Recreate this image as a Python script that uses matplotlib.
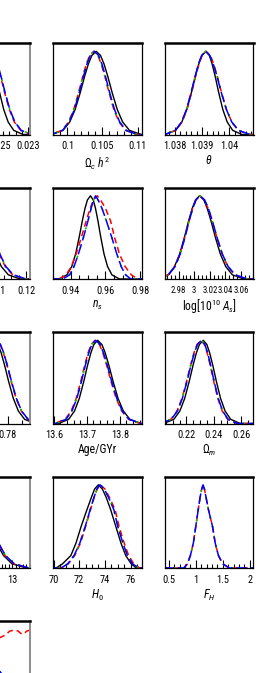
import matplotlib
matplotlib.use("Agg")
import matplotlib.pyplot as plt
from matplotlib import font_manager
from matplotlib.ticker import MultipleLocator, FormatStrFormatter

# the reference uses a very narrow face; take the narrowest one installed
installed = {f.name for f in font_manager.fontManager.ttflist}
face = 'DejaVu Sans'
for cand in ['DejaVu Sans Condensed', 'Liberation Sans Narrow', 'Roboto Condensed', 'Liberation Sans']:
    if cand in installed:
        face = cand
        break
plt.rcParams['font.family'] = [face, 'DejaVu Sans']
plt.rcParams['mathtext.fontset'] = 'custom'
plt.rcParams['mathtext.rm'] = face
plt.rcParams['mathtext.it'] = face + ':italic'
plt.rcParams['mathtext.bf'] = face + ':bold'

# heights (relative to peak) at which the curve crossings were read
levels = [0, 0, 0.05, 0.15, 0.3, 0.5, 0.7, 0.85, 0.95, 1, 0.95, 0.85, 0.7, 0.5, 0.3, 0.15, 0.05, 0, 0]

# row 1, left (cut off) : Omega_b h^2
obh2_black = [0.02150, 0.021750, 0.021900, 0.021989, 0.022060, 0.022125, 0.022184, 0.022233, 0.022277, 0.022334,
              0.022391, 0.022435, 0.022484, 0.022543, 0.022608, 0.022679, 0.022768, 0.022918, 0.02310]
obh2_red = [0.02150, 0.021713, 0.021886, 0.021987, 0.022068, 0.022143, 0.022210, 0.022267, 0.022318, 0.022383,
            0.022448, 0.022499, 0.022556, 0.022623, 0.022698, 0.022779, 0.022880, 0.023053, 0.02310]
obh2_blue = [0.02150, 0.021721, 0.021894, 0.021995, 0.022076, 0.022151, 0.022218, 0.022275, 0.022326, 0.022391,
             0.022456, 0.022507, 0.022564, 0.022631, 0.022706, 0.022787, 0.022888, 0.023061, 0.02310]

# row 2, left (cut off)
tau_black = [0.085, 0.08726, 0.09123, 0.09356, 0.09543, 0.09716, 0.09870, 0.10001, 0.10118, 0.10267,
             0.10416, 0.10533, 0.10664, 0.10818, 0.10991, 0.11178, 0.11411, 0.11808, 0.1230]
tau_red = [0.085, 0.08683, 0.09108, 0.09358, 0.09558, 0.09743, 0.09908, 0.10048, 0.10173, 0.10333,
           0.10493, 0.10618, 0.10758, 0.10923, 0.11108, 0.11308, 0.11558, 0.11983, 0.1230]
tau_blue = [0.085, 0.08703, 0.09128, 0.09378, 0.09578, 0.09763, 0.09928, 0.10068, 0.10193, 0.10353,
            0.10513, 0.10638, 0.10778, 0.10943, 0.11128, 0.11328, 0.11578, 0.12003, 0.1230]

# row 3, left (cut off)
s8_black = [0.750, 0.7585, 0.76275, 0.76525, 0.76725, 0.7691, 0.77075, 0.77215, 0.7734, 0.775,
            0.77643, 0.77755, 0.77879, 0.78027, 0.78192, 0.78371, 0.78594, 0.78973, 0.795]
s8_red = [0.750, 0.75803, 0.76259, 0.76526, 0.76741, 0.76939, 0.77116, 0.77266, 0.77400, 0.77571,
          0.77720, 0.77836, 0.77966, 0.78119, 0.78291, 0.78477, 0.78709, 0.79103, 0.795]
s8_blue = [0.750, 0.75813, 0.76269, 0.76536, 0.76751, 0.76949, 0.77126, 0.77276, 0.77410, 0.77581,
           0.77730, 0.77846, 0.77976, 0.78129, 0.78301, 0.78487, 0.78719, 0.79113, 0.795]

# row 4, left (cut off)
zre_black = [10.0, 10.183, 10.599, 10.844, 11.040, 11.222, 11.383, 11.521, 11.643, 11.8,
             11.957, 12.079, 12.217, 12.378, 12.560, 12.756, 13.001, 13.417, 13.6]
zre_red = [10.0, 10.179, 10.604, 10.854, 11.054, 11.239, 11.404, 11.544, 11.669, 11.829,
           11.989, 12.114, 12.254, 12.419, 12.604, 12.804, 13.054, 13.479, 13.6]
zre_blue = [10.0, 10.189, 10.614, 10.864, 11.064, 11.249, 11.414, 11.554, 11.679, 11.839,
            11.999, 12.124, 12.264, 12.429, 12.614, 12.814, 13.064, 13.489, 13.6]

# row 5, left (only the top is visible)
last_red_x = [0.0, 0.213, 0.438, 0.663, 0.719, 0.775, 0.831, 0.865, 0.910, 0.944, 0.966, 1.0]
last_red_y = [0.55, 0.70, 0.82, 0.90, 0.93, 0.98, 0.99, 0.98, 0.94, 0.96, 0.98, 0.99]
last_blue_x = [0.0, 0.213, 0.438, 0.663, 0.719, 0.80, 1.0]
last_blue_y = [1.0, 0.85, 0.68, 0.49, 0.42, 0.32, 0.15]
last_black_y = [1.0, 0.80, 0.60, 0.38, 0.33, 0.25, 0.10]

# row 1
och2_black = [0.0970, 0.0977, 0.09935, 0.10032, 0.10109, 0.10181, 0.10245, 0.10299, 0.10348, 0.1041,
              0.10472, 0.10521, 0.10575, 0.10639, 0.10711, 0.10788, 0.10885, 0.1105, 0.1110]
och2_red = [0.0970, 0.097655, 0.099227, 0.100152, 0.100892, 0.101577, 0.102187, 0.102705, 0.103168, 0.10376,
            0.104352, 0.104815, 0.105333, 0.105943, 0.106628, 0.107368, 0.108293, 0.109865, 0.1110]
och2_blue = [0.0970, 0.097745, 0.099317, 0.100242, 0.100982, 0.101667, 0.102277, 0.102795, 0.103258, 0.10385,
             0.104442, 0.104905, 0.105423, 0.106033, 0.106718, 0.107458, 0.108383, 0.109955, 0.1110]

theta_black = [1.0375, 1.037655, 1.038037, 1.038262, 1.038442, 1.038609, 1.038757, 1.038883, 1.038996, 1.03914,
               1.039268, 1.039368, 1.03948, 1.039612, 1.03976, 1.03992, 1.04012, 1.04046, 1.0410]
theta_red = [1.0375, 1.037665, 1.038047, 1.038272, 1.038452, 1.038619, 1.038767, 1.038893, 1.039006, 1.03915,
             1.039304, 1.039424, 1.039558, 1.039716, 1.039894, 1.040086, 1.040326, 1.040734, 1.0410]
theta_blue = [1.0375, 1.037645, 1.038027, 1.038252, 1.038432, 1.038599, 1.038747, 1.038873, 1.038986, 1.03913,
              1.039287, 1.039409, 1.039547, 1.039708, 1.03989, 1.040086, 1.04033, 1.040747, 1.0410]

# row 2
ns_black = [0.928, 0.93328, 0.93796, 0.94071, 0.94291, 0.94494, 0.94676, 0.94830, 0.94967, 0.95143,
            0.95303, 0.95428, 0.95568, 0.95733, 0.95918, 0.96118, 0.96368, 0.96793, 0.982]
ns_red = [0.928, 0.9335, 0.9375, 0.9405, 0.9432, 0.9462, 0.9490, 0.9512, 0.9532, 0.9553,
          0.9572, 0.9600, 0.9629, 0.9652, 0.9680, 0.9712, 0.9748, 0.9785, 0.982]
ns_blue = [0.928, 0.9355, 0.9395, 0.9420, 0.9445, 0.9474, 0.9500, 0.9518, 0.9532, 0.9543,
           0.9558, 0.9580, 0.9605, 0.9636, 0.9665, 0.9690, 0.9715, 0.9745, 0.982]

las_black = [2.950, 2.95235, 2.96638, 2.97463, 2.98123, 2.98733, 2.99278, 2.99740, 3.00152, 3.0068,
             3.01230, 3.01660, 3.02142, 3.02710, 3.03346, 3.04034, 3.04894, 3.06356, 3.080]
las_red = [2.950, 2.95275, 2.96678, 2.97503, 2.98163, 2.98773, 2.99318, 2.99780, 3.00192, 3.0072,
           3.01309, 3.01769, 3.02284, 3.02891, 3.03572, 3.04308, 3.05228, 3.06792, 3.080]
las_blue = [2.950, 2.95305, 2.96708, 2.97533, 2.98193, 2.98803, 2.99348, 2.99810, 3.00222, 3.0075,
            3.01339, 3.01799, 3.02314, 3.02921, 3.03602, 3.04338, 3.05258, 3.06822, 3.080]

# row 3
age_black = [13.58, 13.6142, 13.6448, 13.6628, 13.6772, 13.6905, 13.7024, 13.7125, 13.7215, 13.733,
             13.7458, 13.7558, 13.767, 13.7802, 13.795, 13.811, 13.831, 13.865, 13.88]
age_red = [13.58, 13.6029, 13.6344, 13.6527, 13.6677, 13.6814, 13.6936, 13.7039, 13.7132, 13.725,
           13.7383, 13.7487, 13.7603, 13.774, 13.7893, 13.8059, 13.8267, 13.862, 13.88]
age_blue = [13.58, 13.6049, 13.6364, 13.6547, 13.6697, 13.6834, 13.6956, 13.7059, 13.7152, 13.727,
            13.7403, 13.7507, 13.7623, 13.776, 13.7913, 13.8079, 13.8287, 13.864, 13.88]

om_black = [0.200, 0.20326, 0.21074, 0.21514, 0.21866, 0.22192, 0.22482, 0.22728, 0.22948, 0.2323,
            0.23492, 0.23697, 0.23927, 0.24198, 0.24501, 0.24829, 0.25239, 0.25936, 0.272]
om_red = [0.200, 0.2009, 0.20855, 0.21305, 0.21665, 0.21998, 0.22295, 0.22547, 0.22772, 0.2306,
          0.23316, 0.23516, 0.2374, 0.24004, 0.2430, 0.2462, 0.2502, 0.2570, 0.272]
om_blue = [0.200, 0.2012, 0.20885, 0.21335, 0.21695, 0.22028, 0.22325, 0.22577, 0.22802, 0.2309,
           0.23346, 0.23546, 0.2377, 0.24034, 0.2433, 0.2465, 0.2505, 0.2573, 0.272]

# row 4
h0_black = [69.5, 70.2, 70.7, 71.35, 71.75, 72.15, 72.6, 72.95, 73.2, 73.49,
            73.8, 74.1, 74.45, 74.85, 75.25, 75.62, 76.05, 76.45, 77.0]
h0_red = [69.5, 70.6, 71.15, 71.65, 72.1, 72.5, 72.88, 73.17, 73.4, 73.65,
          74.0, 74.35, 74.8, 75.1, 75.5, 75.85, 76.25, 76.7, 77.0]
h0_blue = [69.5, 70.6, 71.1, 71.6, 72.05, 72.47, 72.85, 73.15, 73.38, 73.62,
           73.95, 74.28, 74.7, 75.0, 75.4, 75.75, 76.15, 76.65, 77.0]

fh_all = [0.40, 0.78, 0.845, 0.9, 0.955, 1.0, 1.045, 1.08, 1.11, 1.135,
          1.16, 1.19, 1.235, 1.31, 1.36, 1.42, 1.5, 1.62, 2.10]

panels = [
    # col, row, xlim, major, minor, xlabel, black, red, green, blue
    (0, 0, (0.02160, 0.02303), 0.0005, 0.0001, r'$\Omega_b\ h^2$', obh2_black, obh2_red, obh2_blue, obh2_blue),
    (1, 0, (0.09786, 0.11057), 0.005, 0.001, r'$\Omega_c\ h^2$', och2_black, och2_red, och2_red, och2_blue),
    (2, 0, (1.03763, 1.04088), 0.001, 0.0002, r'$\theta$', theta_black, theta_red, theta_blue, theta_blue),
    (0, 1, (0.09167, 0.12133), 0.01, 0.0025, r'$\tau$', tau_black, tau_red, tau_blue, tau_blue),
    (1, 1, (0.9297, 0.9806), 0.02, 0.005, r'$n_s$', ns_black, ns_red, ns_blue, ns_blue),
    (2, 1, (2.9618, 3.076), 0.02, 0.005, r'log[10$^{10}$ $A_s$]', las_black, las_red, las_blue, las_blue),
    (0, 2, (0.75607, 0.78786), 0.01, 0.005, r'$\sigma_8$', s8_black, s8_red, s8_blue, s8_blue),
    (1, 2, (13.596, 13.866), 0.1, 0.02, 'Age/GYr', age_black, age_red, age_blue, age_blue),
    (2, 2, (0.2039, 0.2691), 0.02, 0.005, r'$\Omega_m$', om_black, om_red, om_blue, om_blue),
    (0, 3, (10.971, 13.514), 1, 0.1, r'$z_{re}$', zre_black, zre_red, zre_blue, zre_blue),
    (1, 3, (69.92, 76.85), 2, 0.5, r'$H_0$', h0_black, h0_red, h0_blue, h0_blue),
    (2, 3, (0.42, 2.07), 0.5, 0.1, r'$F_H$', None, fh_all, fh_all, fh_all),
]

W, H = 272, 673
col_left = [-59, 52.5, 164.5]
row_top = [43, 187.5, 332, 476.5, 621]
pw, ph = 89, 91.5

fig = plt.figure(figsize=(W / 100, H / 100), dpi=100)


def make_axes(col, row):
    ax = fig.add_axes([col_left[col] / W, 1 - (row_top[row] + ph) / H, pw / W, ph / H])
    ax.set_ylim(0, 1.1)
    ax.set_yticks([])
    for side in ['left', 'right', 'bottom']:
        ax.spines[side].set_linewidth(0.9)
    ax.spines['top'].set_linewidth(1.8)
    if col == 0:
        ax.spines['right'].set_color('#8c8c8c')
        ax.spines['right'].set_linewidth(1.4)
    ax.tick_params(axis='x', which='both', direction='in', top=False, labelsize=7.5, pad=5)
    ax.tick_params(axis='x', which='major', length=6, width=0.8)
    ax.tick_params(axis='x', which='minor', length=3.2, width=0.8)
    return ax


for col, row, xlim, major, minor, xlabel, kb, kr, kg, kbl in panels:
    ax = make_axes(col, row)
    if kb is not None:
        ax.plot(kb, levels, color='black', lw=1.0)
    ax.plot(kr, levels, color='red', lw=1.1, dashes=(4, 2.5))
    ax.plot(kg, levels, color='#00c000', lw=1.1, dashes=(1.5, 5))
    ax.plot(kbl, levels, color='blue', lw=1.1, dashes=(7, 2.5))
    ax.set_xlim(*xlim)
    ax.xaxis.set_major_locator(MultipleLocator(major))
    ax.xaxis.set_minor_locator(MultipleLocator(minor))
    ax.xaxis.set_major_formatter(FormatStrFormatter('%g'))
    ax.set_xlabel(xlabel, fontsize=8.5, labelpad=2)
    if xlabel.startswith('log'):
        ax.tick_params(axis='x', labelsize=6.3)

# last row, only the upper part shows
ax = make_axes(0, 4)
ax.plot(last_blue_x, last_black_y, color='black', lw=1.0)
ax.plot(last_red_x, last_red_y, color='red', lw=1.1, dashes=(4, 2.5))
ax.plot(last_blue_x, last_blue_y, color='#00c000', lw=1.1, dashes=(1.5, 5))
ax.plot(last_blue_x, last_blue_y, color='blue', lw=1.1, dashes=(7, 2.5))
ax.set_xlim(0, 1)

fig.savefig('out.png', dpi=100)
